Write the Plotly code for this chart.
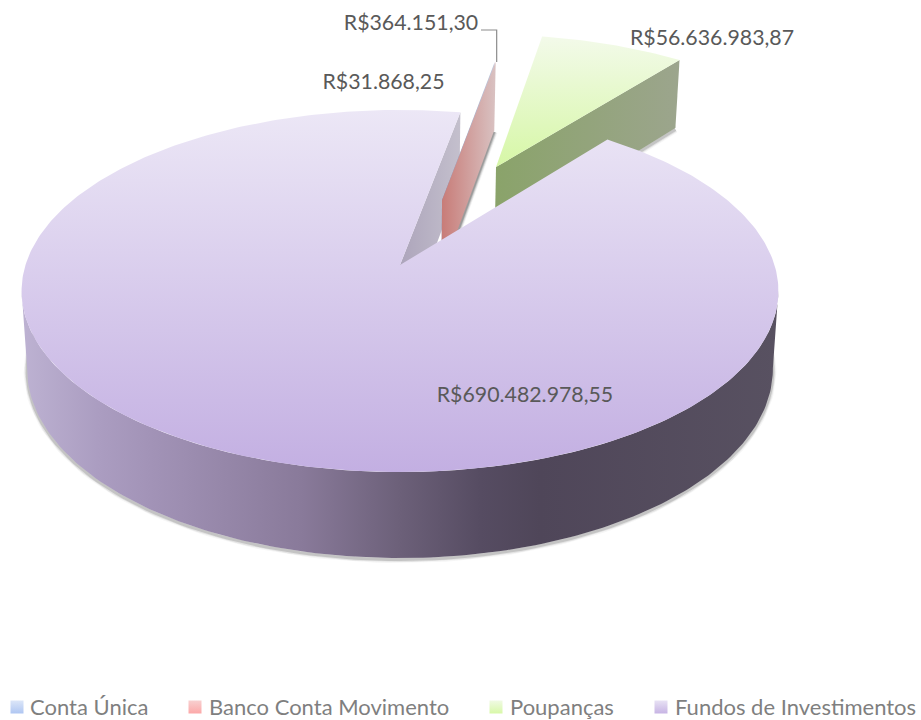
import math
import plotly.graph_objects as go

categories = ["Conta Única", "Banco Conta Movimento", "Poupanças", "Fundos de Investimentos"]
values = [31868.25, 364151.30, 56636983.87, 690482978.55]
value_labels = ["R$31.868,25", "R$364.151,30", "R$56.636.983,87", "R$690.482.978,55"]
label_x = [383.5, 411, 712, 525]
label_y = [84, 25, 40, 397]
legend_swatch_x = [17, 195, 496, 661]
legend_text_x = [30, 209, 510, 675]
LEGEND_Y = 707
LEGEND_TEXT_Y = 709

FIRST_ANGLE = 10.6
# explosion offsets in disc units (x right, y towards the viewer)
explode_u = [0.1185, 0.1185, 0.2785, 0.0]
explode_v = [-0.387, -0.387, -0.600, 0.0]

# projection of the pie disc on the page
K = 0.1436
TOP = dict(x0=400, y0=265, a=374.5, b=177.3)
LOW = dict(x0=400, y0=342, a=369, b=185)


def project(plane, u, v):
    d = 1 - K * v
    return plane["x0"] + plane["a"] * u / d, plane["y0"] + plane["b"] * v / d


def rim(plane, theta, ou, ov):
    t = math.radians(theta)
    return project(plane, ou + math.sin(t), ov - math.cos(t))


def arc(plane, a0, a1, ou=0.0, ov=0.0, n=160):
    return [rim(plane, a0 + (a1 - a0) * i / n, ou, ov) for i in range(n + 1)]


def poly(points, name=None, **kw):
    xs = [p[0] for p in points]
    ys = [p[1] for p in points]
    return go.Scatter(x=xs, y=ys, mode="lines", line=dict(width=0), fill="toself",
                      showlegend=False, hoverinfo="text" if name else "skip",
                      text=name, **kw)


def shade(points, width, alpha):
    return go.Scatter(x=[p[0] for p in points], y=[p[1] + 1.5 for p in points], mode="lines",
                      line=dict(width=width, color=f"rgba(70,70,70,{alpha})"),
                      showlegend=False, hoverinfo="skip")


def hgrad(stops, x0=None, x1=None):
    return dict(type="horizontal", colorscale=stops, start=x0, stop=x1)


def vgrad(c_top, c_bottom, y0, y1):
    return dict(type="vertical", colorscale=[[0, c_top], [1, c_bottom]], start=y0, stop=y1)


total = sum(values)
angles = [FIRST_ANGLE]
for v in values:
    angles.append(angles[-1] + v / total * 360)

fig = go.Figure()

# soft contact shadows
low_outline = arc(LOW, 60, 300)
for w, al in [(7, 0.05), (5, 0.10), (3, 0.20)]:
    fig.add_trace(shade(low_outline, w, al))

# Cut face of the large slice
f0, f1 = angles[3], angles[4]
fig.add_trace(poly([project(TOP, 0, 0), rim(TOP, f1, 0, 0), rim(LOW, f1, 0, 0), project(LOW, 0, 0)],
                   fillgradient=hgrad([[0, "#ADA5BB"], [1, "#C4C0CD"]], 401, 461)))

# Small exploded slices, then the savings slice
slice_top = [("#DCE6F8", "#B4C8F0"), ("#F4C8C8", "#E8A0A0"), ("#F3FAEA", "#D6F7A6")]
wall_cols = [[[0, "#7F96C0"], [1, "#BBC6DA"]],
             [[0, "#C87C78"], [1, "#D9C2C2"]],
             [[0, "#8AA36A"], [1, "#9CA58D"]]]
for i in range(3):
    ou, ov = explode_u[i], explode_v[i]
    a0, a1 = angles[i], angles[i + 1]
    apex_t = project(TOP, ou, ov)
    apex_l = project(LOW, ou, ov)
    r_t = rim(TOP, a1, ou, ov)
    r_l = rim(LOW, a1, ou, ov)
    for w, al in [(7, 0.05), (5, 0.10), (3, 0.20)]:
        fig.add_trace(shade([apex_l, r_l], w, al))
    xa, xb = apex_t[0], r_t[0]
    fig.add_trace(poly([apex_t, r_t, r_l, apex_l], fillgradient=hgrad(wall_cols[i], xa, xb)))
    top_pts = [apex_t] + arc(TOP, a0, a1, ou, ov, n=40)
    ys = [p[1] for p in top_pts]
    fig.add_trace(poly(top_pts, name=f"{categories[i]}: {value_labels[i]}",
                       fillgradient=vgrad(slice_top[i][0], slice_top[i][1], min(ys), max(ys))))

# Large slice: outer wall and top
wall_stops = [[0, "#BDB2D2"], [0.1, "#AB9DC1"], [0.17, "#A293B7"], [0.37, "#897A9A"],
              [0.5, "#6C6079"], [0.606, "#564C62"], [0.685, "#4F4659"], [1, "#585161"]]
fig.add_trace(poly(arc(TOP, 98, 262) + arc(LOW, 262, 98), fillgradient=hgrad(wall_stops, 22, 778)))
top_pts = [project(TOP, 0, 0)] + arc(TOP, f0, f1, n=400)
fig.add_trace(poly(top_pts, name=f"{categories[3]}: {value_labels[3]}",
                   fillgradient=vgrad("#ECE7F6", "#C3AFE2", 110, 472)))

# Leader line of the second label
banco_rim = rim(TOP, angles[2], explode_u[1], explode_v[1])
fig.add_trace(go.Scatter(x=[481, banco_rim[0] + 1, banco_rim[0] + 1], y=[30, 30, banco_rim[1]],
                         mode="lines", line=dict(color="#8C8C8C", width=1.2),
                         showlegend=False, hoverinfo="skip"))

# Data labels
fig.add_trace(go.Scatter(x=label_x, y=label_y, mode="text", text=value_labels,
                         textposition="middle center",
                         textfont=dict(family="Lato", size=21.3, color="#595959"),
                         showlegend=False, hoverinfo="skip"))

# Legend, placed with the library's markers and text
legend_top = ["#DCE6F8", "#F8D0D0", "#F0FAE4", "#E8E2F4"]
legend_bot = ["#AFC6F2", "#FCA8A8", "#D8F8A8", "#C7B4E4"]
for c, t, b, sx in zip(categories, legend_top, legend_bot, legend_swatch_x):
    fig.add_trace(go.Scatter(x=[sx], y=[LEGEND_Y], mode="markers", name=c, showlegend=False,
                             hoverinfo="skip",
                             marker=dict(symbol="square", size=13, color=t,
                                         gradient=dict(type="vertical", color=b))))
fig.add_trace(go.Scatter(x=legend_text_x, y=[LEGEND_TEXT_Y] * 4, mode="text", text=categories,
                         textposition="middle right", showlegend=False, hoverinfo="skip",
                         textfont=dict(family="Lato", size=22, color="#7F7F7F")))

fig.update_layout(
    width=921, height=720, margin=dict(l=0, r=0, t=0, b=0),
    paper_bgcolor="white", plot_bgcolor="white",
    xaxis=dict(range=[0, 921], visible=False, fixedrange=True),
    yaxis=dict(range=[720, 0], visible=False, fixedrange=True),
    showlegend=False,
)
fig.write_html("out.html", config={"displayModeBar": False},
               post_script="document.body.style.margin='0';")
